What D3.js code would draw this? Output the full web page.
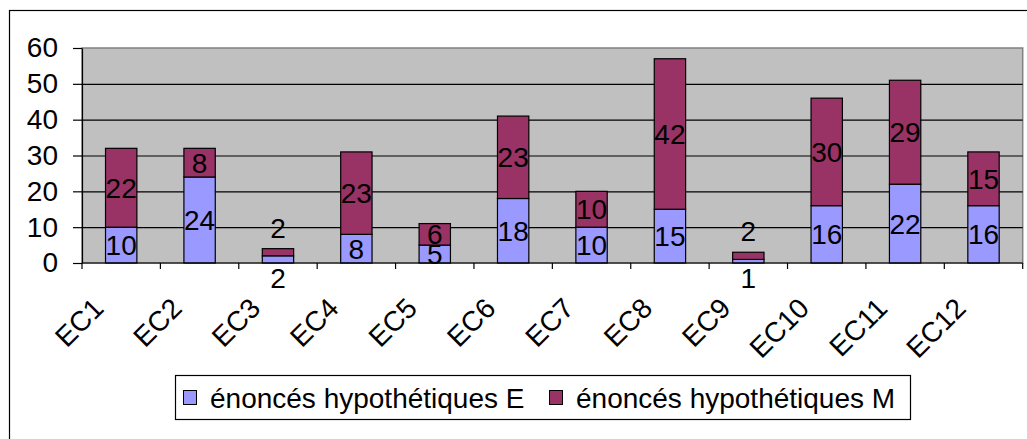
<!DOCTYPE html>
<html lang="fr">
<head>
<meta charset="utf-8">
<title>Énoncés hypothétiques</title>
<script src="https://d3js.org/d3.v7.min.js"></script>
<style>
  body { margin: 0; background: #ffffff; }
  text { font-family: "Liberation Sans", Arial, sans-serif; fill: #000; }
</style>
</head>
<body>
<div id="chart"></div>
<script>
// data
var categories = ["EC1", "EC2", "EC3", "EC4", "EC5", "EC6", "EC7", "EC8", "EC9", "EC10", "EC11", "EC12"];
var valuesE = [10, 24, 2, 8, 5, 18, 10, 15, 1, 16, 22, 16];
var valuesM = [22, 8, 2, 23, 6, 23, 10, 42, 2, 30, 29, 15];
var yTicks = [0, 10, 20, 30, 40, 50, 60];
var seriesNames = ["énoncés hypothétiques E", "énoncés hypothétiques M"];
var seriesColors = ["#9999ff", "#993366"];

var width = 1027, height = 439;
var plot = {left: 82, right: 1022.7, top: 48, bottom: 263};

var svg = d3.select("#chart")
  .append("svg")
    .attr("width", width)
    .attr("height", height);

// outer chart frame (goes past the picture on right / bottom)
svg.append("rect")
  .attr("x", 9.5).attr("y", 10.5)
  .attr("width", 1100).attr("height", 500)
  .attr("fill", "#fff")
  .attr("stroke", "#000")
  .attr("stroke-width", 1.2);

var x = d3.scaleBand()
  .domain(categories)
  .range([plot.left, plot.right])
  .paddingInner(0.6)
  .paddingOuter(0.3);

var y = d3.scaleLinear()
  .domain([0, 60])
  .range([plot.bottom, plot.top]);

// plot area
svg.append("rect")
  .attr("x", plot.left).attr("y", plot.top)
  .attr("width", plot.right - plot.left)
  .attr("height", plot.bottom - plot.top)
  .attr("fill", "#c0c0c0")
  .attr("stroke", "#808080")
  .attr("stroke-width", 1.5);

// gridlines
svg.append("g")
  .selectAll("line")
  .data(yTicks.filter(function(d) { return d > 0 && d < 60; }))
  .enter()
  .append("line")
    .attr("x1", plot.left).attr("x2", plot.right)
    .attr("y1", function(d) { return y(d) + 0.5; })
    .attr("y2", function(d) { return y(d) + 0.5; })
    .attr("stroke", "#000")
    .attr("stroke-width", 1.2);

// stacked bars
var rows = categories.map(function(c, i) { return {cat: c, E: valuesE[i], M: valuesM[i]}; });
var stacked = d3.stack().keys(["E", "M"])(rows);

svg.append("g")
  .selectAll("g")
  .data(stacked)
  .enter()
  .append("g")
    .attr("fill", function(d, i) { return seriesColors[i]; })
  .selectAll("rect")
  .data(function(d) { return d; })
  .enter()
  .append("rect")
    .attr("x", function(d) { return x(d.data.cat); })
    .attr("y", function(d) { return y(d[1]); })
    .attr("width", x.bandwidth())
    .attr("height", function(d) { return y(d[0]) - y(d[1]); })
    .attr("stroke", "#000")
    .attr("stroke-width", 1.2);

// Y axis
var yAxis = svg.append("g")
  .attr("transform", "translate(" + plot.left + ",0)")
  .call(d3.axisLeft(y).tickValues(yTicks).tickSize(9).tickSizeOuter(0).tickPadding(15));
yAxis.select(".domain").attr("stroke", "#000").attr("stroke-width", 1.2);
yAxis.selectAll(".tick line").attr("stroke", "#000").attr("stroke-width", 1.2);
yAxis.selectAll("text")
  .attr("font-size", "28px")
  .attr("font-family", "Liberation Sans, Arial, sans-serif")
  .attr("fill", "#000");

// X axis line and category ticks
svg.append("line")
  .attr("x1", plot.left).attr("x2", plot.right)
  .attr("y1", plot.bottom).attr("y2", plot.bottom)
  .attr("stroke", "#000").attr("stroke-width", 1.2);

var half = (x.step() - x.bandwidth()) / 2;
var boundaries = categories.map(function(c) { return x(c) - half; });
boundaries.push(x(categories[categories.length - 1]) + x.bandwidth() + half);
svg.append("g")
  .selectAll("line")
  .data(boundaries)
  .enter()
  .append("line")
    .attr("x1", function(d) { return d; })
    .attr("x2", function(d) { return d; })
    .attr("y1", plot.bottom).attr("y2", plot.bottom + 6)
    .attr("stroke", "#000").attr("stroke-width", 1.2);

// rotated category labels
svg.append("g")
  .selectAll("text")
  .data(categories)
  .enter()
  .append("text")
    .attr("transform", function(d) {
      return "translate(" + (x(d) + x.bandwidth() / 2 - 16) + "," + (plot.bottom + 47) + ") rotate(-45)";
    })
    .attr("text-anchor", "end")
    .attr("font-size", "28px")
    .text(function(d) { return d; });

// data labels: centred in each segment, thin stacks get pushed out
var labels = [];
rows.forEach(function(r) {
  var cx = x(r.cat) + x.bandwidth() / 2;
  var thin = (y(0) - y(r.E) < 20) && (y(r.E) - y(r.E + r.M) < 20);
  labels.push({x: cx, y: thin ? y(0) + 15 : (y(0) + y(r.E)) / 2, v: r.E});
  labels.push({x: cx, y: thin ? y(r.E + r.M) - 21 : (y(r.E) + y(r.E + r.M)) / 2, v: r.M});
});
svg.append("g")
  .selectAll("text")
  .data(labels)
  .enter()
  .append("text")
    .attr("x", function(d) { return d.x; })
    .attr("y", function(d) { return d.y; })
    .attr("dy", "0.36em")
    .attr("text-anchor", "middle")
    .attr("font-size", "28px")
    .text(function(d) { return d.v; });

// legend
var legend = svg.append("g");
legend.append("rect")
  .attr("x", 175.5).attr("y", 375.5)
  .attr("width", 735).attr("height", 44)
  .attr("fill", "#fff")
  .attr("stroke", "#000")
  .attr("stroke-width", 1.2);

var legendX = [183, 549];
var item = legend.selectAll("g.item")
  .data(seriesNames)
  .enter()
  .append("g")
    .attr("class", "item")
    .attr("transform", function(d, i) { return "translate(" + legendX[i] + ",398)"; });
item.append("rect")
  .attr("x", 0.5).attr("y", -7.5)
  .attr("width", 13).attr("height", 14)
  .attr("fill", function(d, i) { return seriesColors[i]; })
  .attr("stroke", "#000")
  .attr("stroke-width", 1);
item.append("text")
  .attr("x", 27)
  .attr("y", 0)
  .attr("dy", "0.36em")
  .attr("font-size", "28px")
  .text(function(d) { return d; });
</script>
</body>
</html>
